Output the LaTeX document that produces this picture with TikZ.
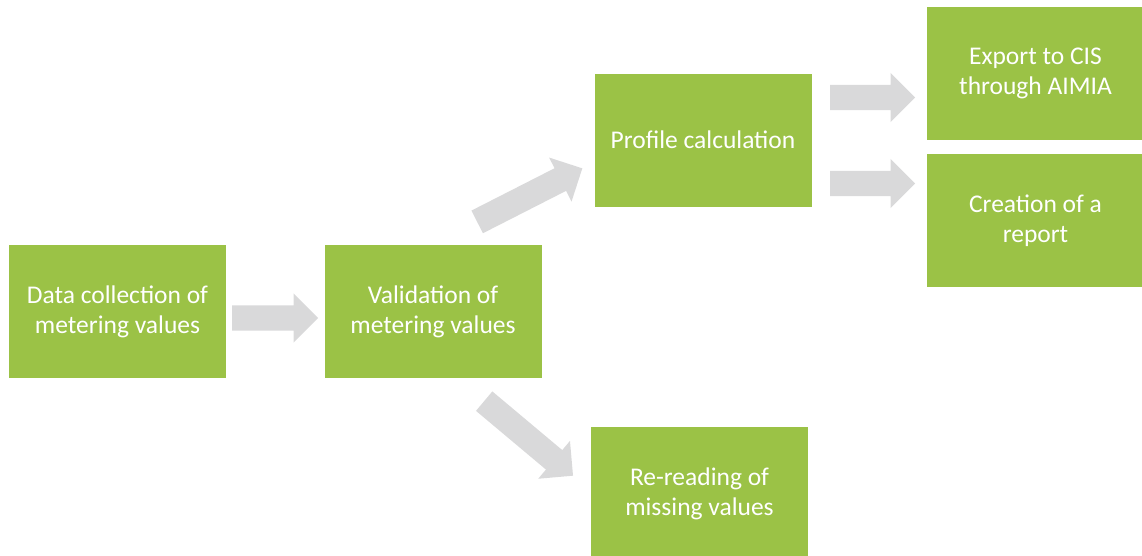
\documentclass[tikz,border=0pt]{standalone}
\usepackage{fontspec}
\setmainfont{Carlito}
\usetikzlibrary{positioning,shapes.arrows}
\definecolor{stepgreen}{RGB}{155,194,70}
\definecolor{arrowgray}{RGB}{217,217,218}

\begin{document}
\begin{tikzpicture}[x=1pt,y=-1pt,
	box/.style={fill=stepgreen, text=white, align=center, inner sep=0pt,
		minimum width=217pt, minimum height=133pt, font=\fontsize{25.5}{30}\selectfont},
	blockarrow/.style={single arrow, fill=arrowgray, inner xsep=0pt, inner ysep=12.5pt,
		single arrow head extend=12pt, minimum height=86pt, anchor=tail}]
	\clip (0,0) rectangle (1142,555);
	\useasboundingbox (0,0) rectangle (1142,555);
	% process steps
	\node[box] (collect) at (117.5,311.5) {Data collection of\\metering values};
	\node[box] (valid) at (433,311.5) {Validation of\\metering values};
	\node[box] (profile) at (703,140) {Profile calculation};
	\node[box] (export) at (1035.5,73) {Export to CIS\\through AIMIA};
	\node[box] (report) at (1035.5,220.5) {Creation of a\\report};
	\node[box] (reread) at (699.5,493.5) {Re-reading of\\missing values};
	% arrows between the steps
	\node[blockarrow] (collect-valid) at (232,318) {};
	\node[blockarrow, minimum height=118pt, rotate=27] (valid-profile) at (477,222) {};
	\node[blockarrow, minimum height=116pt, rotate=-40] (valid-reread) at (484,401) {};
	\node[blockarrow, minimum height=85pt] (profile-export) at (830,97.5) {};
	\node[blockarrow, minimum height=85pt] (profile-report) at (830,183.5) {};
\end{tikzpicture}
\end{document}
